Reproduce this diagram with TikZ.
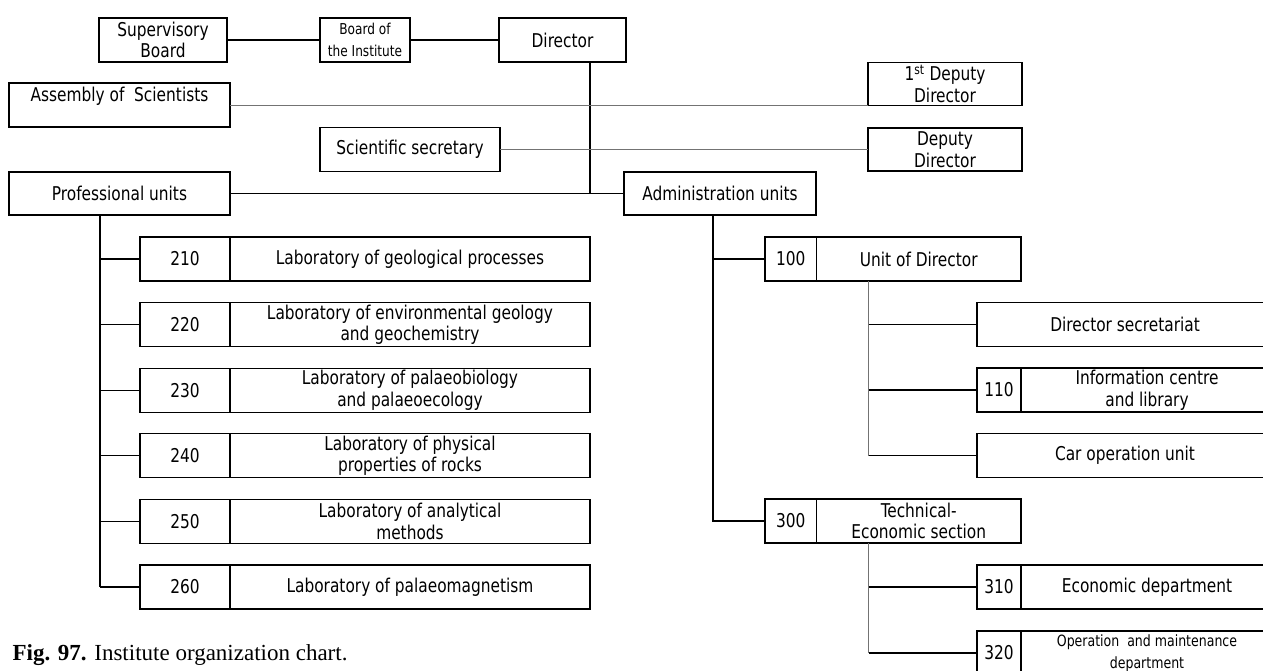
\documentclass[tikz,border=0pt]{standalone}
\usepackage{fontspec}
\usetikzlibrary{positioning}
\newfontfamily\boxfont[FakeStretch=0.9]{DejaVu Sans Condensed}
\newfontfamily\capfont{Liberation Serif}

\begin{document}
\begin{tikzpicture}[x=1pt,y=-1pt,line width=1.2pt,
unit/.style={draw,rectangle,inner sep=0pt,outer sep=0pt,minimum height=44pt,align=center,font=\boxfont\fontsize{19}{21.5}\selectfont},
num/.style={unit,minimum width=90pt},
labbox/.style={unit,minimum width=360pt},
thinline/.style={line width=0.9pt,draw=black!55}]
\useasboundingbox (0,0) rectangle (1263,670);
\clip (0,0) rectangle (1263,670);
% top level
\node[unit,minimum width=128pt] (sup) at (163,40) {Supervisory\\Board};
\node[unit,minimum width=90pt,font=\boxfont\fontsize{15}{21.5}\selectfont] (board) at (365,40) {Board of\\the Institute};
\node[unit,minimum width=127pt] (dir) at (562.5,40) {Director};
\node[unit,minimum width=221pt] (asm) at (119.5,105) {Assembly of~~Scientists\\~};
\node[unit,minimum width=154pt,minimum height=43pt] (dep1) at (945,84) {1\textsuperscript{st} Deputy\\Director};
\node[unit,minimum width=180pt] (sci) at (410,149.5) {Scientific secretary};
\node[unit,minimum width=154pt,minimum height=43pt] (dep2) at (945,149.5) {Deputy\\Director};
\node[unit,minimum width=221pt,minimum height=43pt] (prof) at (119.5,193.5) {Professional units};
\node[unit,minimum width=192pt,minimum height=43pt] (adm) at (720,193.5) {Administration units};
\coordinate (hub) at (590,193.5);
\draw (sup) -- (board);
\draw (board) -- (dir);
\draw (hub |- dir.south) -- (hub);
\draw (prof) -- (adm);
\draw[thinline] (asm.east) -- (asm.east -| dep1.west);
\draw[thinline] (sci) -- (dep2);
% professional units
\foreach \n/\t [count=\k from 0] in {210/Laboratory of geological processes,
  220/{Laboratory of environmental geology\\and geochemistry},
  230/{Laboratory of palaeobiology\\and palaeoecology},
  240/{Laboratory of physical\\properties of rocks},
  250/{Laboratory of analytical\\methods},
  260/Laboratory of palaeomagnetism}{
  \node[num] (n\n) at (185,259+65.6*\k) {\n};
  \node[labbox,right=0pt of n\n] (l\n) {\t};
  \draw ([xshift=-40pt]n\n.west) -- (n\n.west);
}
\draw ([xshift=-40pt]n210.west |- prof.south) -- ([xshift=-40pt]n260.west);
% administration units
\node[num,minimum width=51.5pt] (n100) at (790.75,259) {100};
\node[unit,minimum width=204.5pt,right=0pt of n100] (l100) {Unit of Director};
\node[unit,minimum width=296pt] (dsec) at (1125,324.5) {Director secretariat};
\node[num,minimum width=44pt] (n110) at (999,390) {110};
\node[unit,minimum width=252pt,right=0pt of n110] (l110) {Information centre\\and library};
\node[unit,minimum width=296pt] (car) at (1125,455.5) {Car operation unit};
\node[num,minimum width=51.5pt] (n300) at (790.75,521) {300};
\node[unit,minimum width=204.5pt,right=0pt of n300] (l300) {Technical-\\Economic section};
\node[num,minimum width=44pt] (n310) at (999,587) {310};
\node[unit,minimum width=252pt,right=0pt of n310] (l310) {Economic department};
\node[num,minimum width=44pt] (n320) at (999,653) {320};
\node[unit,minimum width=252pt,right=0pt of n320,font=\boxfont\fontsize{15.5}{21.5}\selectfont] (l320) {Operation~~and maintenance\\department};
\draw ([xshift=-52pt]n100.west |- adm.south) -- ([xshift=-52pt]n300.west) -- (n300.west);
\draw ([xshift=-52pt]n100.west) -- (n100.west);
\draw[thinline] ([xshift=-108.5pt]dsec.west |- n100.south) -- ([xshift=-108.5pt]car.west);
\foreach \b in {dsec,n110,car}
  \draw ([xshift=-108.5pt]\b.west) -- (\b.west);
\draw[thinline] ([xshift=-108.5pt]n310.west |- n300.south) -- ([xshift=-108.5pt]n320.west);
\foreach \b in {n310,n320}
  \draw ([xshift=-108.5pt]\b.west) -- (\b.west);
% caption
\node[anchor=base west,inner sep=0pt,font=\capfont\fontsize{23}{27}\selectfont] (cap) at (12,660) {\textbf{Fig. 97.} Institute organization chart.};
\end{tikzpicture}
\end{document}
